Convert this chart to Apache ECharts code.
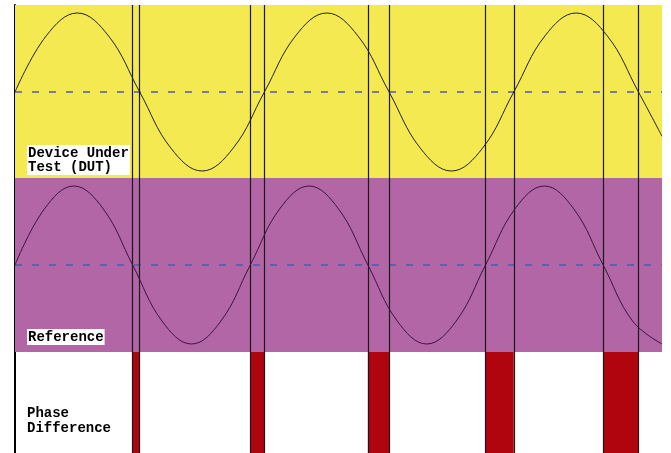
<!DOCTYPE html>
<html><head><meta charset="utf-8">
<script src="https://cdn.jsdelivr.net/npm/echarts@6/dist/echarts.min.js"></script>
<style>html,body{margin:0;padding:0;background:#fff}#c{width:671px;height:453px}</style>
</head><body><div id="c"></div>
<script>
// time axis (arbitrary units) and normalized signal values
var refT = [0,25,50,75,100,125,150,175,200,225,250,275,300,325,350,375,400,425,450,475,500,525,550];
var refV = [0,0.71,1,0.71,0,-0.71,-1,-0.71,0,0.71,1,0.71,0,-0.71,-1,-0.71,0,0.71,1,0.71,0,-0.71,-1];
var dutT = [0,26.5,53,79.5,106,132.5,159,185.5,212,238.5,265,291.5,318,344.5,371,397.5,424,450.5,477,503.5,530,550];
var dutV = [0,0.71,1,0.71,0,-0.71,-1,-0.71,0,0.71,1,0.71,0,-0.71,-1,-0.71,0,0.71,1,0.71,0,-0.56];
// zero crossings
var refCross = [100,200,300,400,500];
var dutCross = [106,212,318,424,530];
var labels = ['Device Under\nTest (DUT)','Reference','Phase\nDifference'];

var TMAX = 550;
var AMP = 79, DUT0 = 361, REF0 = 188;
var BAND_W = 101, BAND_P = 275, TOP = 448;

function pts(t, v, c){ return t.map(function(x,i){ return [x, c + v[i]*AMP]; }); }

var vlines = [];
refCross.forEach(function(x){ vlines.push({xAxis:x}); });
dutCross.forEach(function(x){ vlines.push({xAxis:x}); });

var redAreas = refCross.map(function(x,i){
  return [{xAxis:x, yAxis:0}, {xAxis:dutCross[i], yAxis:BAND_W}];
});

var chart = echarts.init(document.getElementById('c'), null, {renderer:'canvas'});
chart.setOption({
  animation:false,
  grid:{left:15, right:9, top:5, bottom:0},
  xAxis:{type:'value', min:0, max:TMAX, show:false},
  yAxis:{type:'value', min:0, max:TOP, axisLabel:{show:false}, axisTick:{show:false}, splitLine:{show:false},
    axisLine:{show:true, lineStyle:{color:'#000', width:2}}},
  series:[
    {type:'line', data:[], z:1, silent:true,
      markArea:{silent:true, data:[
        [{xAxis:0, yAxis:BAND_P, itemStyle:{color:'#F4E951'}},{xAxis:TMAX, yAxis:TOP}],
        [{xAxis:0, yAxis:BAND_W, itemStyle:{color:'#B366A5'}},{xAxis:TMAX, yAxis:BAND_P}]
      ]}},
    {type:'line', data:[], z:2, silent:true,
      markArea:{silent:true, itemStyle:{color:'#B0050F'}, data:redAreas}},
    {type:'line', data:[], z:3, silent:true,
      markLine:{silent:true, symbol:'none', label:{show:false},
        lineStyle:{color:'#4D5BAE', type:[7,10], width:1.6},
        data:[{yAxis:DUT0},{yAxis:REF0}]}},
    {type:'line', data:[], z:4, silent:true,
      markLine:{silent:true, symbol:'none', label:{show:false},
        lineStyle:{color:'#1a1a1a', type:'solid', width:1.2},
        data:vlines}},
    {type:'line', data:pts(dutT,dutV,DUT0), smooth:0.4, showSymbol:false, z:5, silent:true,
      lineStyle:{color:'#222', width:1}},
    {type:'line', data:pts(refT,refV,REF0), smooth:0.4, showSymbol:false, z:5, silent:true,
      lineStyle:{color:'#3a1445', width:1}}
  ],
  graphic:[
    {type:'text', left:27, top:145, z:10, style:{text:labels[0], font:'bold 14px "Liberation Mono", monospace', fill:'#000',
      lineHeight:14, backgroundColor:'#fff', padding:[1,1,1,1]}},
    {type:'text', left:27, top:329, z:10, style:{text:labels[1], font:'bold 14px "Liberation Mono", monospace', fill:'#000',
      lineHeight:14, backgroundColor:'#fff', padding:[1,1,1,1]}},
    {type:'text', left:27, top:406, z:10, style:{text:labels[2], font:'bold 14px "Liberation Mono", monospace', fill:'#000',
      lineHeight:15}}
  ]
});
</script></body></html>
